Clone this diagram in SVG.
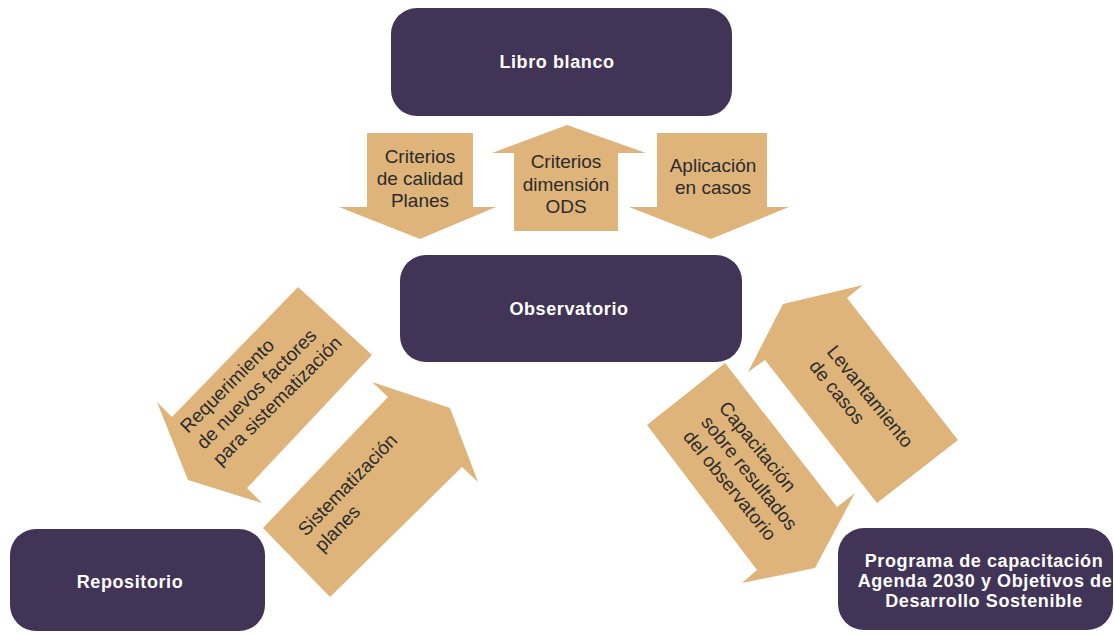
<svg xmlns="http://www.w3.org/2000/svg" width="1114" height="634" viewBox="0 0 1114 634">
<style>
.node{fill:#413456}
.nt{fill:#ffffff;font-family:"Liberation Sans",Arial,sans-serif;font-weight:bold;font-size:18px;letter-spacing:0.6px;text-anchor:middle}
.arr{fill:#DEB47A}
.at{fill:#2b2b2b;font-family:"Liberation Sans",Arial,sans-serif;font-size:19px}
.mid{text-anchor:middle}
</style>
<rect width="1114" height="634" fill="#ffffff"/>
<g id="connectors">
  <g id="arrow-criterios-calidad">
    <polygon class="arr" points="367,133 473,133 473,207 496,207 420,239 339,207 367,207"/>
    <text class="at mid" x="420" y="163">Criterios</text>
    <text class="at mid" x="420" y="185">de calidad</text>
    <text class="at mid" x="420" y="207">Planes</text>
  </g>
  <g id="arrow-criterios-ods">
    <polygon class="arr" points="567,125 646,153 618,153 618,231 514,231 514,153 492,153"/>
    <text class="at mid" x="566" y="168">Criterios</text>
    <text class="at mid" x="566" y="191">dimensión</text>
    <text class="at mid" x="566" y="213">ODS</text>
  </g>
  <g id="arrow-aplicacion">
    <polygon class="arr" points="657,133 767,133 767,207 789,207 711,239 629,207 657,207"/>
    <text class="at mid" x="713" y="172">Aplicación</text>
    <text class="at mid" x="713" y="194">en casos</text>
  </g>
  <g id="arrow-requerimiento">
    <polygon class="arr" points="298,287 372,355 247,488 262,503 188,480 157,402 172,417"/>
    <g transform="translate(188,434) rotate(-45)">
      <text class="at" x="0" y="0">Requerimiento</text>
      <text class="at" x="0" y="23">de nuevos factores</text>
      <text class="at" x="0" y="46">para sistematización</text>
    </g>
  </g>
  <g id="arrow-sistematizacion">
    <polygon class="arr" points="372,382 450,408 478,482 462,467 330,597 263,528 388,397"/>
    <g transform="translate(306,537) rotate(-46)">
      <text class="at" x="0" y="0">Sistematización</text>
      <text class="at" x="0" y="23">planes</text>
    </g>
  </g>
  <g id="arrow-levantamiento">
    <polygon class="arr" points="783,304 863,285 847,298 958,440 877,503 765,360 748,372"/>
    <g transform="translate(826,352) rotate(51)">
      <text class="at" x="0" y="0">Levantamiento</text>
      <text class="at" x="0" y="23">de casos</text>
    </g>
  </g>
  <g id="arrow-capacitacion">
    <polygon class="arr" points="725,363 837,507 855,493 815,568 742,583 757,570 647,425"/>
    <g transform="translate(718,408) rotate(51)">
      <text class="at" x="0" y="0">Capacitación</text>
      <text class="at" x="0" y="23">sobre resultados</text>
      <text class="at" x="0" y="46">del observatorio</text>
    </g>
  </g>
</g>
<g id="node-libro-blanco">
  <rect class="node" x="391" y="8" width="341" height="108" rx="26"/>
  <text class="nt" x="557" y="68">Libro blanco</text>
</g>
<g id="node-observatorio">
  <rect class="node" x="400" y="255" width="342" height="107" rx="26"/>
  <text class="nt" x="569" y="315">Observatorio</text>
</g>
<g id="node-repositorio">
  <rect class="node" x="10" y="529" width="255" height="102" rx="26"/>
  <text class="nt" x="130" y="588">Repositorio</text>
</g>
<g id="node-programa">
  <rect class="node" x="838" y="528" width="275" height="102" rx="26"/>
  <text class="nt" x="984" y="567">Programa de capacitación</text>
  <text class="nt" x="985" y="587">Agenda 2030 y Objetivos de</text>
  <text class="nt" x="984" y="607">Desarrollo Sostenible</text>
</g>
</svg>
